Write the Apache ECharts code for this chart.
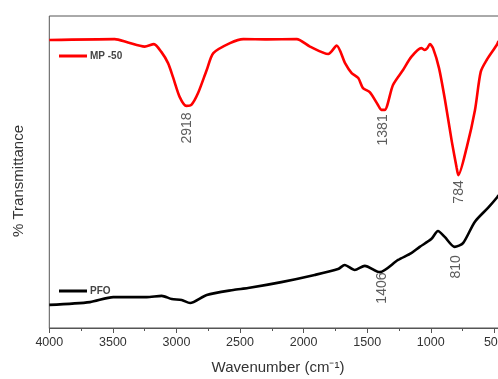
<!DOCTYPE html>
<html>
<head>
<meta charset="utf-8">
<script src="https://cdn.jsdelivr.net/npm/echarts@6/dist/echarts.min.js"></script>
<style>
html,body{margin:0;padding:0;background:#fff;}
#chart{width:498px;height:379px;}
</style>
</head>
<body>
<div id="chart"></div>
<script>
// Wavenumber ticks
const xTicks = [4000, 3500, 3000, 2500, 2000, 1500, 1000, 500];

// MP-50 (red) spectrum
const wnMP50 = [4000,3486,3381,3250,3177,3119,3066,3027,2974,2922,2883,2830,2762,2710,2579,2474,2288,2054,1950,1806,1740,1674,1622,1570,1533,1480,1415,1389,1362,1297,1218,1153,1074,1047,1029,1006,982,935,888,835,796,783,717,652,607,560,481,467];
const tMP50 = [92.3,92.6,91.5,90.2,91.0,88.5,84.9,80.4,74.0,71.2,71.5,75.3,82.7,88.1,91.3,92.6,92.5,92.6,90.2,87.8,90.5,84.9,81.7,80.1,76.9,75.6,71.5,69.9,69.9,77.9,82.7,86.9,89.7,89.1,89.6,91.0,89.7,83.3,73.1,59.9,51.3,49.0,57.9,69.9,82.1,85.9,90.7,92.0];

// PFO (black) spectrum
const wnPFO = [4000,3680,3497,3234,3116,3037,2959,2893,2762,2553,2437,2175,1913,1729,1677,1598,1519,1401,1257,1153,1087,996,943,890,812,746,654,550,476,467];
const tPFO = [7.4,8.3,9.9,9.9,10.3,9.3,9.0,8.0,10.6,12.2,12.8,14.7,17.0,18.9,20.2,18.6,19.9,17.9,21.8,24.0,26.0,28.5,31.1,29.2,26.0,27.2,34.0,38.5,42.0,42.6];

// Peak annotations
const peakText = ['2918', '1381', '784', '1406', '810'];
const peakX = [2913, 1375, 774, 1383, 801];
const peakY = [64.1, 63.5, 43.6, 12.8, 19.6];

const seriesNames = ['MP -50', 'PFO'];

const pairs = (xs, ys) => xs.map((x, i) => [x, ys[i]]);
const FONT = '"Liberation Sans", Arial, sans-serif';

const chart = echarts.init(document.getElementById('chart'), null, {renderer: 'canvas'});
chart.setOption({
  animation: false,
  backgroundColor: '#fff',
  grid: {
    left: 49.3, top: 16, width: 508.6, bottom: 51,
    outerBoundsMode: 'none', containLabel: false,
    show: true, borderColor: '#555', borderWidth: 1, backgroundColor: 'transparent'
  },
  xAxis: {
    type: 'value', inverse: true, min: 0, max: 4000, interval: 500,
    axisLine: {show: true, lineStyle: {color: '#555', width: 1}},
    axisTick: {show: true, length: 5, inside: false, lineStyle: {color: '#555'}},
    minorTick: {show: true, splitNumber: 2, length: 3, lineStyle: {color: '#555'}},
    axisLabel: {
      margin: 8, color: '#333', fontSize: 12.5, fontFamily: FONT,
      formatter: v => (xTicks.indexOf(v) >= 0 ? String(v) : '')
    },
    splitLine: {show: false}
  },
  yAxis: {
    type: 'value', min: 0, max: 100,
    axisLine: {show: true, lineStyle: {color: '#555', width: 1}},
    axisTick: {show: false}, axisLabel: {show: false}, splitLine: {show: false}
  },
  legend: [
    {
      data: [seriesNames[0]], left: 54, top: 46, icon: 'rect', itemWidth: 28, itemHeight: 3,
      textStyle: {fontSize: 10, fontWeight: 'bold', color: '#444', fontFamily: FONT, padding: [0,0,0,-2]},
      selectedMode: false
    },
    {
      data: [seriesNames[1]], left: 54, top: 281, icon: 'rect', itemWidth: 28, itemHeight: 3,
      textStyle: {fontSize: 10, fontWeight: 'bold', color: '#444', fontFamily: FONT, padding: [0,0,0,-2]},
      selectedMode: false
    }
  ],
  series: [
    {
      name: seriesNames[0], type: 'line', data: pairs(wnMP50, tMP50),
      showSymbol: false, smooth: 0.25, color: '#f00',
      lineStyle: {width: 2.6, color: '#f00'}
    },
    {
      name: seriesNames[1], type: 'line', data: pairs(wnPFO, tPFO),
      showSymbol: false, smooth: 0.25, color: '#000',
      lineStyle: {width: 2.6, color: '#000'}
    },
    {
      name: 'peaks', type: 'scatter', symbolSize: 0, silent: true,
      data: peakText.map((t, i) => ({name: t, value: [peakX[i], peakY[i]]})),
      label: {
        show: true, position: 'inside', rotate: 90, formatter: p => p.name,
        fontSize: 14, color: '#333', fontFamily: FONT
      }
    }
  ],
  graphic: [
    {
      type: 'text', x: 19, y: 181, rotation: Math.PI / 2,
      style: {text: '% Transmittance', font: '15px ' + FONT, fill: '#333', align: 'center', verticalAlign: 'middle'}
    },
    {
      type: 'text', x: 278, y: 368,
      style: {text: 'Wavenumber (cm\u207B\u00B9)', font: '15px ' + FONT, fill: '#333', align: 'center', verticalAlign: 'middle'}
    }
  ]
});
</script>
</body>
</html>
